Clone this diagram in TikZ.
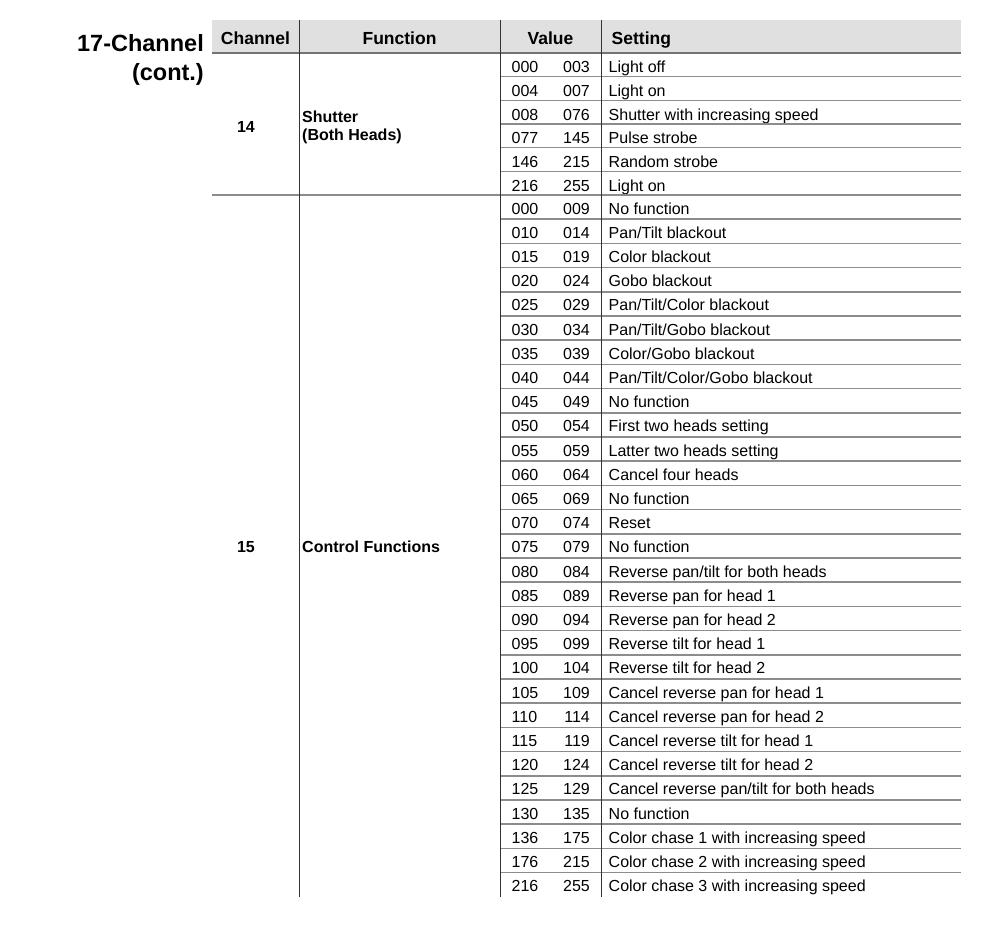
\documentclass[tikz,border=0pt]{standalone}
\usepackage{fontspec}
\setmainfont{Liberation Sans}
\begin{document}
\begin{tikzpicture}[
    x=1pt, y=-1pt,
    every node/.style={inner sep=0pt, font=\fontsize{16}{18}\selectfont},
    titel/.style={anchor=base east, font=\fontsize{23.5}{26}\selectfont\bfseries},
    kopf/.style={anchor=base, font=\fontsize{17.5}{20}\selectfont\bfseries},
    fett/.style={font=\fontsize{16}{18}\selectfont\bfseries},
    von/.style={anchor=base west},
    bis/.style={anchor=base east},
    reihe/.style={draw=black!45, line width=1.6pt},
    spalte/.style={draw=black!80, line width=0.9pt}
  ]
  \useasboundingbox (0,0) rectangle (1002,930);
  % title
  \node[titel] (t1) at (204,51) {17-Channel};
  \node[titel] (t2) at (204,80.5) {(cont.)};
  % header
  \fill[black!12] (212,20) rectangle (961,53);
  \node[kopf] (hch) at (255.5,44) {Channel};
  \node[kopf] (hfn) at (399.5,44) {Function};
  \node[kopf] (hval) at (550.5,44) {Value};
  \node[kopf, anchor=base west] (hset) at (611.5,44) {Setting};
  % channel 14
  \node[fett, anchor=base] (ch14) at (246,132) {14};
  \node[fett, anchor=base west, align=left] (fn14) at (302,140)
    {Shutter\\(Both Heads)};
  \foreach \lo/\hi/\txt [count=\i] in {
      000/003/Light off, 004/007/Light on,
      008/076/Shutter with increasing speed, 077/145/Pulse strobe,
      146/215/Random strobe, 216/255/Light on} {
    \pgfmathsetmacro\yb{53+23.67*(\i-0.5)+8}
    \node[von] (shLo\i) at (511.5,\yb) {\lo};
    \node[bis] (shHi\i) at (590,\yb) {\hi};
    \node[von] (shSet\i) at (608.5,\yb) {\txt};
  }
  \foreach \k in {1,...,5}
    \draw[reihe] (500,{53+23.67*\k}) -- (961,{53+23.67*\k});
  % channel 15
  \node[fett, anchor=base] (ch15) at (246,552.5) {15};
  \node[fett, anchor=base west] (fn15) at (302,552.5) {Control Functions};
  \foreach \lo/\hi/\txt [count=\i] in {
      000/009/No function, 010/014/{Pan/Tilt blackout},
      015/019/Color blackout, 020/024/Gobo blackout,
      025/029/{Pan/Tilt/Color blackout}, 030/034/{Pan/Tilt/Gobo blackout},
      035/039/{Color/Gobo blackout}, 040/044/{Pan/Tilt/Color/Gobo blackout},
      045/049/No function, 050/054/First two heads setting,
      055/059/Latter two heads setting, 060/064/Cancel four heads,
      065/069/No function, 070/074/Reset,
      075/079/No function, 080/084/{Reverse pan/tilt for both heads},
      085/089/Reverse pan for head 1, 090/094/Reverse pan for head 2,
      095/099/Reverse tilt for head 1, 100/104/Reverse tilt for head 2,
      105/109/Cancel reverse pan for head 1, 110/114/Cancel reverse pan for head 2,
      115/119/Cancel reverse tilt for head 1, 120/124/Cancel reverse tilt for head 2,
      125/129/{Cancel reverse pan/tilt for both heads}, 130/135/No function,
      136/175/Color chase 1 with increasing speed,
      176/215/Color chase 2 with increasing speed,
      216/255/Color chase 3 with increasing speed} {
    \pgfmathsetmacro\yb{195+24.2*(\i-0.5)+7}
    \node[von] (cfLo\i) at (511.5,\yb) {\lo};
    \node[bis] (cfHi\i) at (590,\yb) {\hi};
    \node[von] (cfSet\i) at (608.5,\yb) {\txt};
  }
  \foreach \k in {1,...,28}
    \draw[reihe] (500,{195+24.2*\k}) -- (961,{195+24.2*\k});
  % rules
  \draw[reihe, draw=black!55] (212,53) -- (961,53);
  \draw[reihe] (212,195) -- (961,195);
  \draw[spalte] (299,20) -- (299,897);
  \draw[spalte] (500,20) -- (500,897);
  \draw[spalte] (601,20) -- (601,897);
\end{tikzpicture}
\end{document}
